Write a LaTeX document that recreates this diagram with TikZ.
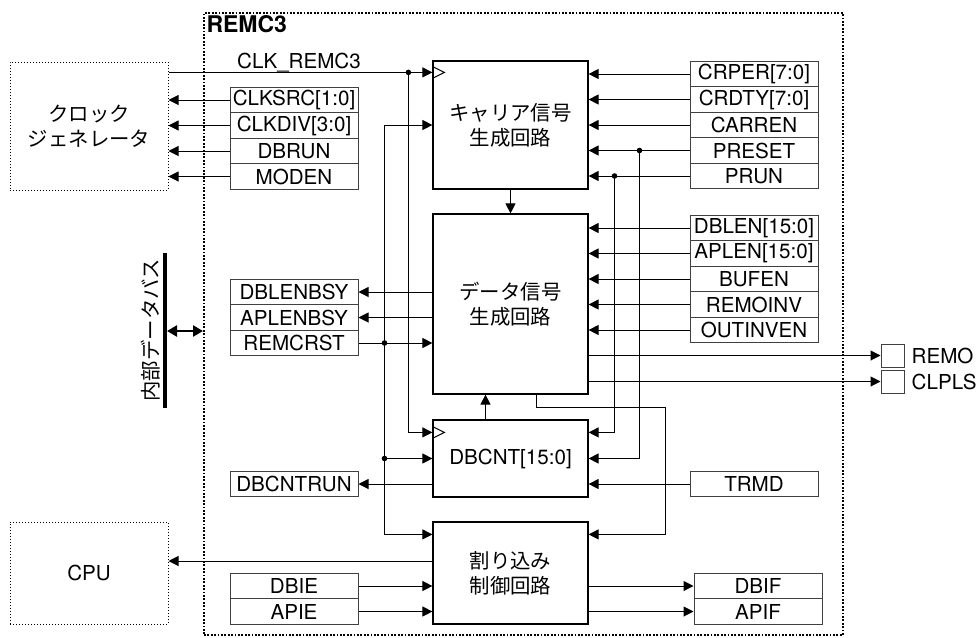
\documentclass[tikz,border=0pt]{standalone}
\usepackage{fontspec}
\setmainfont{TeX Gyre Heros}
\newfontfamily\jpfont{Noto Sans CJK JP}
\usetikzlibrary{arrows.meta,positioning}

\tikzset{
  reg/.style={draw=black!75,minimum width=64pt,minimum height=12.75pt,inner sep=0pt},
  blk/.style={draw,line width=0.6pt,minimum width=77.5pt,inner sep=0pt,align=center,font=\jpfont\fontsize{10.2}{12.5}\selectfont},
  ext/.style={draw,dash pattern=on 0.6pt off 0.9pt,minimum width=79pt,inner sep=0pt,align=center},
  sig/.style={-{Triangle[length=5pt,width=5pt]}},
  pin/.style={draw=black!75,minimum size=11.5pt,inner sep=0pt},
}

\begin{document}
\begin{tikzpicture}[x=0.5pt,y=-0.5pt,line width=0.5pt,font=\fontsize{10.3}{12}\selectfont]
\useasboundingbox (0,0) rectangle (978,637);

\node[draw,line width=1pt,dash pattern=on 0.9pt off 0.8pt,minimum width=319.5pt,minimum height=311pt] (remc) at (523.5,324) {};
\node[anchor=north west,inner sep=1.5pt,font=\bfseries\fontsize{11.5}{13}\selectfont] (remcname) at (remc.north west) {REMC3};

\node[ext,minimum height=64pt,font=\jpfont\fontsize{10.2}{12.5}\selectfont] (ckgen) at (89,126) {クロック\\ジェネレータ};
\node[ext,minimum height=51pt] (cpu) at (89,573) {CPU};

\node[blk,minimum height=64pt] (carrier) at (510.5,125) {キャリア信号\\生成回路};
\node[blk,minimum height=90pt] (data) at (510.5,304) {データ信号\\生成回路};
\node[blk,minimum height=38.5pt,font=\fontsize{10.3}{12}\selectfont] (dbcnt) at (510.5,458.5) {DBCNT[15:0]};
\node[blk,minimum height=51pt] (intc) at (510.5,573) {割り込み\\制御回路};

\node[reg] (clksrc) at (294,100) {CLKSRC[1:0]};
\node[reg] (clkdiv) at (294,125.5) {CLKDIV[3:0]};
\node[reg] (dbrun) at (294,151) {DBRUN};
\node[reg] (moden) at (294,176.5) {MODEN};
\node[reg] (dblenbsy) at (294,292) {DBLENBSY};
\node[reg] (aplenbsy) at (294,317.5) {APLENBSY};
\node[reg] (remcrst) at (294,343) {REMCRST};
\node[reg] (dbcntrun) at (294,484) {DBCNTRUN};
\node[reg] (dbie) at (294,586) {DBIE};
\node[reg] (apie) at (294,611.5) {APIE};

\node[reg] (crper) at (754,74) {CRPER[7:0]};
\node[reg] (crdty) at (754,99.5) {CRDTY[7:0]};
\node[reg] (carren) at (754,125) {CARREN};
\node[reg] (preset) at (754,150.5) {PRESET};
\node[reg] (prun) at (754,176) {PRUN};
\node[reg] (dblen) at (754,228) {DBLEN[15:0]};
\node[reg] (aplen) at (754,253.5) {APLEN[15:0]};
\node[reg] (bufen) at (754,279) {BUFEN};
\node[reg] (remoinv) at (754,304.5) {REMOINV};
\node[reg] (outinven) at (754,330) {OUTINVEN};
\node[reg] (trmd) at (754,484) {TRMD};
\node[reg] (dbif) at (758,586) {DBIF};
\node[reg] (apif) at (758,611.5) {APIF};

\node[pin] (remo) at (892.5,355.5) {};
\node[pin] (clpls) at (892.5,381.5) {};
\node[anchor=west] (remolbl) at (remo.east) {REMO};
\node[anchor=west] (clplslbl) at (clpls.east) {CLPLS};

\draw[sig] (clksrc.west) -- (clksrc.west -| ckgen.east);
\draw[sig] (clkdiv.west) -- (clkdiv.west -| ckgen.east);
\draw[sig] (dbrun.west) -- (dbrun.west -| ckgen.east);
\draw[sig] (moden.west) -- (moden.west -| ckgen.east);

\coordinate (carclk) at ([yshift=-6pt]carrier.north west);
\coordinate (dbclk) at ([yshift=-6.5pt]dbcnt.north west);
\coordinate (ckdot) at ([xshift=-12pt]carclk);
\draw (carclk -| ckgen.east) -- (ckdot);
\draw[sig] (ckdot) -- (carclk);
\draw[sig] (ckdot) |- (dbclk);
\fill (ckdot) circle (1.4pt);
\node[anchor=base] (clklbl) at (299,68) {CLK\_REMC3};
\draw ([yshift=3pt]carclk) -- ([xshift=6pt]carclk) -- ([yshift=-3pt]carclk);
\draw ([yshift=3pt]dbclk) -- ([xshift=6pt]dbclk) -- ([yshift=-3pt]dbclk);

\coordinate (rstdot) at ([xshift=13pt]remcrst.east);
\draw (remcrst.east) -- (rstdot);
\draw[sig] (rstdot) -- (rstdot -| data.west);
\draw[sig] (rstdot) |- (carrier.west);
\draw[sig] (rstdot) |- (dbcnt.west);
\draw[sig] (rstdot) |- ([yshift=-6.5pt]intc.north west);
\fill (rstdot) circle (1.4pt);
\fill (rstdot |- dbcnt.west) circle (1.4pt);

\draw[sig] (dblenbsy.east -| data.west) -- (dblenbsy.east);
\draw[sig] (aplenbsy.east -| data.west) -- (aplenbsy.east);
\draw[sig] (remo.west -| data.east) -- (remo.west);
\draw[sig] (clpls.west -| data.east) -- (clpls.west);

\draw[sig] (crper.west) -- (crper.west -| carrier.east);
\draw[sig] (crdty.west) -- (crdty.west -| carrier.east);
\draw[sig] (carren.west) -- (carren.west -| carrier.east);
\draw[sig] (preset.west) -- (preset.west -| carrier.east);
\draw[sig] (prun.west) -- (prun.west -| carrier.east);
\draw[sig] (dblen.west) -- (dblen.west -| data.east);
\draw[sig] (aplen.west) -- (aplen.west -| data.east);
\draw[sig] (bufen.west) -- (bufen.west -| data.east);
\draw[sig] (remoinv.west) -- (remoinv.west -| data.east);
\draw[sig] (outinven.west) -- (outinven.west -| data.east);

\coordinate (psdot) at ([xshift=-25pt]preset.west);
\coordinate (prdot) at ([xshift=-37.5pt]prun.west);
\draw[sig] (psdot) |- (dbcnt.east);
\draw[sig] (prdot) |- ([yshift=-6.5pt]dbcnt.north east);
\fill (psdot) circle (1.4pt);
\fill (prdot) circle (1.4pt);
\draw[sig] (trmd.west) -- (trmd.west -| dbcnt.east);
\draw[sig] (dbcnt.west |- dbcntrun.east) -- (dbcntrun.east);

\draw[sig] (carrier.south) -- (data.north);
\draw[sig] ([xshift=-12.5pt]dbcnt.north) -- ([xshift=-12.5pt]data.south);
\coordinate (dbout) at ([xshift=13pt]data.south);
\coordinate (dbbend) at (665,407);
\draw[sig] (dbout) |- (dbbend) |- ([yshift=-6.5pt]intc.north east);

\draw[sig] ([yshift=6pt]intc.west) -- ([yshift=6pt]intc.west -| cpu.east);
\draw[sig] (dbie.east) -- (dbie.east -| intc.west);
\draw[sig] (apie.east) -- (apie.east -| intc.west);
\draw[sig] (dbif.west -| intc.east) -- (dbif.west);
\draw[sig] (apif.west -| intc.east) -- (apif.west);

\coordinate (bustop) at (165,253);
\coordinate (busbot) at (165,408);
\coordinate (busmid) at (167,331);
\draw[line width=2pt] (bustop) -- (busbot);
\draw[line width=1.3pt,{Triangle[length=5pt,width=5.5pt]}-{Triangle[length=5pt,width=5.5pt]}] (busmid) -- (busmid -| remc.west);
\node[rotate=90,font=\jpfont\fontsize{10.2}{12}\selectfont] (buslbl) at (151,330) {内部データバス};
\end{tikzpicture}
\end{document}
